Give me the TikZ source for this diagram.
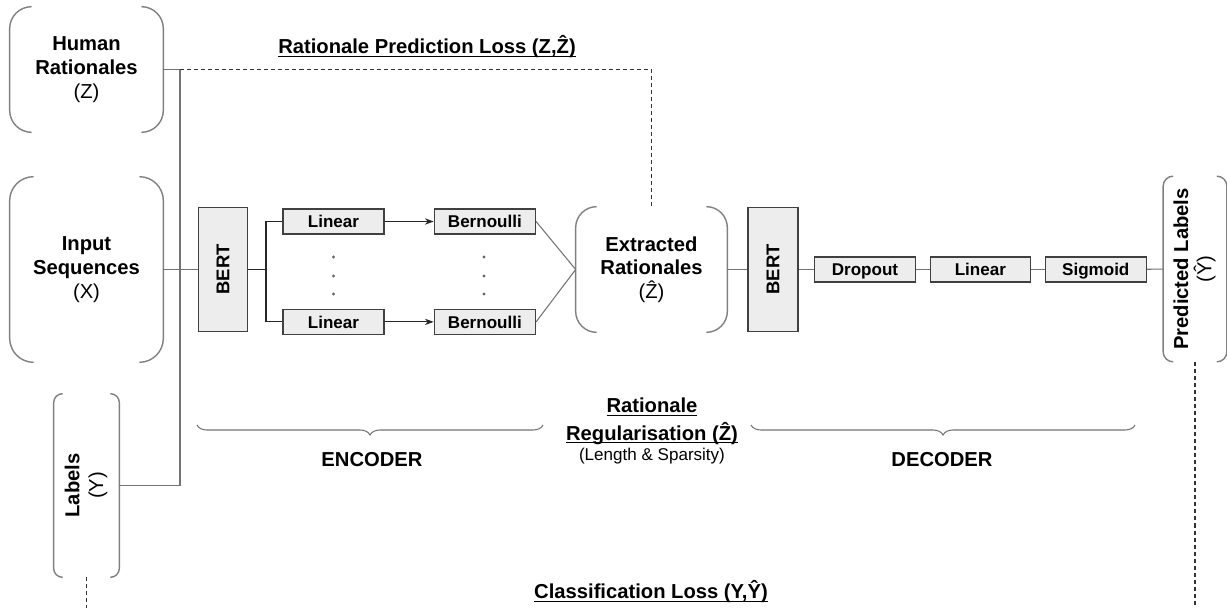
\documentclass[tikz,border=0pt]{standalone}
\usepackage{fontspec}
\setmainfont{Liberation Sans}
\usepackage{tikz}
\usetikzlibrary{arrows.meta,calc,decorations.pathreplacing}
\usetikzlibrary{positioning}

% round bracket pair drawn on the left and right side of a node
\newcommand{\brackets}[2]{%
  \draw [bracket] ([xshift=#2]#1.north west) arc[start angle=90, end angle=180, radius=#2]
    -- ([yshift=#2]#1.south west) arc[start angle=180, end angle=270, radius=#2];
  \draw [bracket] ([xshift=-#2]#1.north east) arc[start angle=90, end angle=0, radius=#2]
    -- ([yshift=#2]#1.south east) arc[start angle=0, end angle=-90, radius=#2];
}
% underline sitting right under the baseline
\newcommand{\lossline}[1]{\underline{\smash{#1}}\vphantom{#1}}

\begin{document}
\begin{tikzpicture}[
      x=0.02cm, y=0.02cm,
      node distance=0.27cm,
      box/.style={draw=black!75, fill=black!7, line width=0.8pt, inner sep=0pt, font=\fontsize{9.7}{11}\selectfont\bfseries, text height=1.75ex, text depth=0.35ex, minimum width=2.02cm, minimum height=0.5cm},
      bert/.style={box, text height=, text depth=, minimum width=0.97cm, minimum height=2.48cm, font=\fontsize{10.5}{12}\selectfont\bfseries},
      holder/.style={inner sep=0pt, align=center, font=\fontsize{11.5}{13.5}\selectfont},
      bracket/.style={draw=black!50, line width=0.8pt},
      line/.style={draw=black!55, line width=0.6pt},
      link/.style={draw=black!85, line width=0.6pt},
      loss/.style={draw=black!80, line width=0.6pt, dash pattern=on 2.3pt off 1.7pt},
      arrow/.style={link, -{Stealth[length=5pt, width=3.6pt]}},
      brace/.style={draw=black!55, line width=0.6pt, decorate, decoration={brace, amplitude=0.2cm}},
      title/.style={font=\fontsize{11.5}{13.5}\selectfont\bfseries}
      ]
      \useasboundingbox (0,0) rectangle (1227,-608);

      % Inputs
      \node (hum) [holder, minimum width=3.06cm, minimum height=2.5cm] at (86.5,-69.5) {\textbf{Human}\\\textbf{Rationales}\\(Z)};
      \node (inp) [holder, minimum width=3.06cm, minimum height=3.7cm] at (86.5,-269.5) {\textbf{Input}\\\textbf{Sequences}\\(X)};
      \node (lab) [holder, minimum width=1.3cm, minimum height=3.66cm] at (86.5,-485.5) {\rotatebox{90}{\begin{tabular}{@{}c@{}}\textbf{Labels}\\(Y)\end{tabular}}};
      \brackets{hum}{0.44cm}
      \brackets{inp}{0.48cm}
      \brackets{lab}{0.18cm}

      % Encoder
      \node (bert1) [bert] at (223,-269.5) {\rotatebox{90}{BERT}};
      \node (lin1) [box] at (333.5,-221.5) {Linear};
      \node (lin2) [box, below=1.48cm of lin1] {Linear};
      \node (ber1) [box, right=0.98cm of lin1] {Bernoulli};
      \node (ber2) [box, right=0.98cm of lin2] {Bernoulli};
      \foreach \y in {257,276,294} {
        \fill [black!60] (333.5,-\y) circle (0.9pt);
        \fill [black!60] (484,-\y) circle (0.9pt);
      }

      % Rationales
      \node (ext) [holder, minimum width=3.02cm, minimum height=2.5cm] at (651.5,-269.5) {\textbf{Extracted}\\\textbf{Rationales}\\(Ẑ)};
      \brackets{ext}{0.42cm}

      % Decoder
      \node (bert2) [bert, minimum width=1.0cm] at (773,-269.5) {\rotatebox{90}{BERT}};
      \node (drop) [box] at (865,-269.5) {Dropout};
      \node (lin3) [box, minimum width=2.0cm, right=of drop] {Linear};
      \node (sig) [box, right=of lin3] {Sigmoid};
      \node (pred) [holder, minimum width=1.26cm, minimum height=3.7cm] at (1195,-269) {\rotatebox{90}{\begin{tabular}{@{}c@{}}\textbf{Predicted Labels}\\[-1pt](Ŷ)\end{tabular}}};
      \brackets{pred}{0.2cm}

      % Texts
      \node (predloss) [title] at (427,-47) {\lossline{Rationale Prediction Loss (Z,Ẑ)}};
      \node (reg) [holder] at (652,-431) {\textbf{\lossline{Rationale}}\\[2pt]\textbf{\lossline{Regularisation (Ẑ)}}\\[-2pt]{\fontsize{9.7}{11}\selectfont (Length \& Sparsity)}};
      \node (enc) [title] at (372,-460) {ENCODER};
      \node (dec) [title] at (942,-460) {DECODER};
      \node (clsloss) [title] at (651,-592) {\lossline{Classification Loss (Y,Ŷ)}};
      \draw [brace] (543,-425) -- (197,-425);
      \draw [brace] (1135,-425) -- (751,-425);

      % Connectors
      \coordinate (bus) at (180,0);
      \coordinate (fork) at (266,-269.5);
      \coordinate (bottom) at (0,-608);
      \draw [line] (hum.east) -- (hum.east -| bus) |- (lab.east);
      \draw [loss] (hum.east -| bus) -| (ext.north);
      \draw [line] (inp.east) -- (bert1.west);
      \draw [link] (bert1.east) -- (fork) |- (lin1.west);
      \draw [link] (fork) |- (lin2.west);
      \draw [arrow] (lin1) -- (ber1);
      \draw [arrow] (lin2) -- (ber2);
      \draw [line] (ber1.east) -- (ext.west);
      \draw [line] (ber2.east) -- (ext.west);
      \draw [line] (ext) -- (bert2);
      \draw [line] (bert2) -- (drop);
      \draw [line] (drop) -- (lin3);
      \draw [line] (lin3) -- (sig);
      \draw [line] (sig) -- (pred);
      \draw [loss] (lab.south) -- (lab.south |- bottom);
      \draw [loss] (pred.south) -- (pred.south |- bottom);

    \end{tikzpicture}
\end{document}
